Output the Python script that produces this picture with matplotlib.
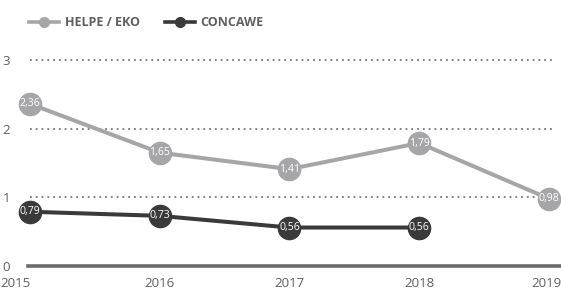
import matplotlib.pyplot as plt
from matplotlib.lines import Line2D

years = [2015, 2016, 2017, 2018, 2019]
helpe_eko = [2.36, 1.65, 1.41, 1.79, 0.98]
concawe_years = [2015, 2016, 2017, 2018]
concawe = [0.79, 0.73, 0.56, 0.56]
y_ticks = [0, 1, 2, 3]

light = "#a6a6a8"
dark = "#3a3a3a"
text_col = "#5f5f5f"

plt.rcParams["font.family"] = ["Open Sans", "DejaVu Sans"]

W, H = 561, 291
fig = plt.figure(figsize=(W / 100, H / 100), dpi=100)
ax = fig.add_axes([28 / W, 25 / H, 1 - 28 / W, 226 / H])

px_year = (549 - 30) / 4
ax.set_xlim(2015 - 2 / px_year, 2019 + 12 / px_year)
ax.set_ylim(0, 226 / 68.7)

for y in y_ticks[1:]:
    ax.plot([2015, 2019 + 6 / px_year], [y, y], color="#777777", lw=1.3,
            ls=(0, (1, 2.2)), zorder=1)
ax.axhline(0, color="#6b6b6b", lw=2.6, clip_on=False, zorder=1)


def draw_series(xs, ys, color):
    ax.plot(xs, ys, color=color, lw=2.9, marker="o", ms=16,
            mec=color, mfc=color, zorder=3, clip_on=False)
    for x, y in zip(xs, ys):
        ax.text(x, y, f"{y:.2f}".replace(".", ","), color="white",
                fontsize=7.6, ha="center", va="center", zorder=4)


draw_series(years, helpe_eko, light)
draw_series(concawe_years, concawe, dark)

ax.set_xticks([])
ax.set_yticks(y_ticks)
ax.set_yticklabels([str(y) for y in y_ticks])
ax.tick_params(length=0, colors=text_col, labelsize=9.5)
ax.tick_params(axis="y", pad=13)

# year labels: the outer ones are pulled inside the figure
x_shift = {2015: -15 / px_year, 2019: -3 / px_year}
for yr in years:
    ax.text(yr + x_shift.get(yr, 0), -0.16, str(yr), color=text_col, fontsize=9.5,
            ha="center", va="top", clip_on=False)

for s in ax.spines.values():
    s.set_visible(False)

handles = [
    Line2D([], [], color=light, lw=2.6, marker="o", ms=7, label="HELPE / EKO"),
    Line2D([], [], color=dark, lw=2.6, marker="o", ms=7, label="CONCAWE"),
]
leg = fig.legend(handles=handles, loc="upper left", bbox_to_anchor=(18 / W, 1 - 5 / H),
                 ncol=2, frameon=False, handlelength=2.4, handletextpad=0.45,
                 columnspacing=2.0, prop={"size": 9, "weight": "bold"})
for t in leg.get_texts():
    t.set_color(text_col)

fig.savefig("out.png", dpi=100)
